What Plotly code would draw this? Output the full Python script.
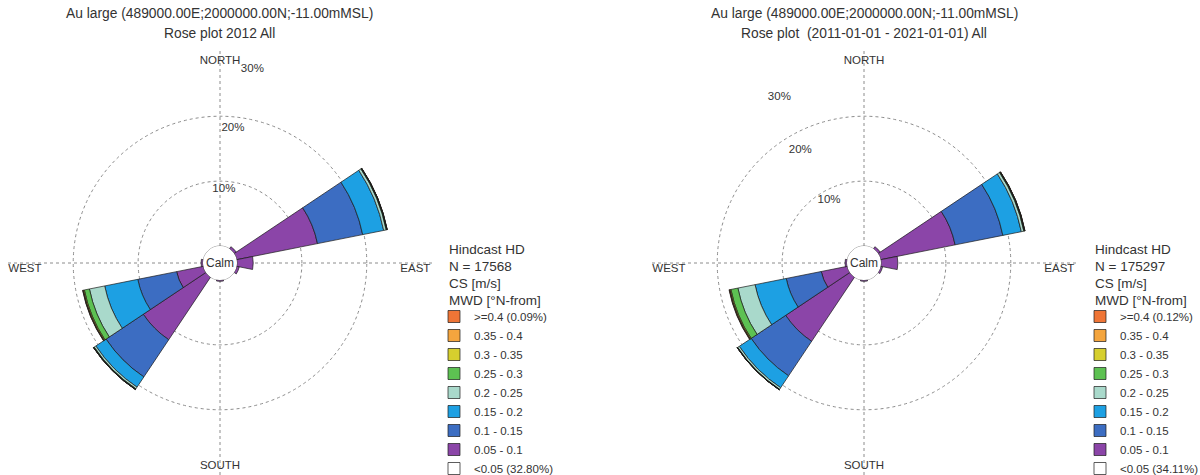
import plotly.graph_objects as go

# ---------------- data ----------------
directions = [45, 67.5, 90, 112.5, 180, 225, 247.5, 270]   # MWD, deg N-from

bin_labels = ["0.05 - 0.1", "0.1 - 0.15", "0.15 - 0.2", "0.2 - 0.25",
              "0.25 - 0.3", "0.3 - 0.35", "0.35 - 0.4"]
bin_colors = ["#8B45A8", "#3C6DC2", "#1DA0E3", "#A9D9CB",
              "#5DC152", "#D6CF2E", "#F4A53E", "#EF7536"]

# left rose : 2012 (percent of records, per direction sector)
left_bins = [
    [0.4, 12.7, 2.5, 0.4, 0.2, 11.6, 4.2, 0.3],      # 0.05-0.1
    [None, 7.1, None, None, None, 6.9, 6.1, None],   # 0.1-0.15
    [None, 3.3, None, None, None, 1.9, 5.2, None],   # 0.15-0.2
    [None, 0.4, None, None, None, 0.3, 2.4, None],   # 0.2-0.25
    [None, 0.1, None, None, None, 0.1, 0.8, None],   # 0.25-0.3
    [None, 0.03, None, None, None, 0.02, 0.15, None],  # 0.3-0.35
    [None, 0.02, None, None, None, 0.01, 0.08, None],  # 0.35-0.4
    [None, 0.01, None, None, None, 0.01, 0.04, None],  # >=0.4
]
left_top_label = ">=0.4 (0.09%)"
left_calm_label = "<0.05 (32.80%)"
left_n = "17568"
left_title = ["Au large (489000.00E;2000000.00N;-11.00mMSL)", "Rose plot 2012 All"]

# right rose : 2011-2021
right_bins = [
    [0.4, 11.7, 2.6, 0.3, 0.2, 11.9, 4.1, 0.3],
    [None, 7.5, None, None, None, 6.4, 5.5, None],
    [None, 2.9, None, None, None, 2.2, 4.9, None],
    [None, 0.4, None, None, None, 0.3, 2.7, None],
    [None, 0.1, None, None, None, 0.05, 1.1, None],
    [None, 0.04, None, None, None, 0.02, 0.15, None],
    [None, 0.02, None, None, None, 0.01, 0.08, None],
    [None, 0.02, None, None, None, 0.01, 0.06, None],
]
right_top_label = ">=0.4 (0.12%)"
right_calm_label = "<0.05 (34.11%)"
right_n = "175297"
right_title = ["Au large (489000.00E;2000000.00N;-11.00mMSL)",
               "Rose plot  (2011-01-01 - 2021-01-01) All"]

radial_ticks = [10, 20, 30]
radial_tick_text = ["10%", "20%", "30%"]
compass_theta = [0, 90, 180, 270]
compass_text = ["NORTH", "EAST", "SOUTH", "WEST"]

TXT = "#333333"
FONT = "Liberation Sans, Arial, sans-serif"

W, H = 1200, 475
R = 212
CY = 263


def px(x):
    return x / W


def py(y):
    return 1 - y / H


fig = go.Figure()


def add_rose(polar, legend, bins, top_label, calm_label, lab_theta, lab_scale, lab_shift):
    fig.add_trace(go.Barpolar(
        r=[None], theta=[0], name=calm_label, subplot=polar, legend=legend,
        marker=dict(color="white", line=dict(color="#333", width=0.8)),
    ))
    names = bin_labels + [top_label]
    for vals, name, col in zip(bins, names, bin_colors):
        fig.add_trace(go.Barpolar(
            r=vals, theta=directions, width=22.5, name=name,
            subplot=polar, legend=legend,
            marker=dict(color=col, line=dict(color="#1a1a1a", width=0.7)),
            hovertemplate="%{theta}°: %{r}%<extra>" + name + "</extra>",
        ))
    # calm circle outline
    fig.add_trace(go.Scatterpolar(
        r=[0] * 73, theta=[i * 5 for i in range(73)], mode="lines",
        line=dict(color="#777", width=0.8), subplot=polar,
        showlegend=False, hoverinfo="skip",
    ))
    # compass labels
    fig.add_trace(go.Scatterpolar(
        r=[29.4, 29.8, 29.6, 30], theta=compass_theta, mode="text", text=compass_text,
        textposition=["bottom center", "bottom left", "top center", "bottom right"],
        textfont=dict(size=11.5, color=TXT, family=FONT),
        subplot=polar, showlegend=False, hoverinfo="skip",
    ))
    # radial labels
    fig.add_trace(go.Scatterpolar(
        r=[t * lab_scale + lab_shift for t in radial_ticks], theta=lab_theta,
        mode="text", text=radial_tick_text, textposition="middle center",
        textfont=dict(size=11.5, color=TXT, family=FONT),
        subplot=polar, showlegend=False, hoverinfo="skip",
    ))


add_rose("polar", "legend", left_bins, left_top_label, left_calm_label,
         [3, 5.5, 9.5], 0.94, -0.6)
add_rose("polar2", "legend2", right_bins, right_top_label, right_calm_label,
         [-29, -29.5, -27], 0.88, -0.3)


def polar_layout(cx):
    return dict(
        domain=dict(x=[px(cx - R), px(cx + R)], y=[max(0, py(CY + R)), py(CY - R)]),
        hole=17 / R,
        bgcolor="white",
        barmode="stack",
        radialaxis=dict(range=[0, 30.05], tickvals=radial_ticks, showticklabels=False,
                        ticks="", showline=False, showgrid=True,
                        gridcolor="#8c8c8c", griddash="dot", gridwidth=1),
        angularaxis=dict(direction="clockwise", rotation=90, tickvals=compass_theta,
                         showticklabels=False, ticks="", showline=False,
                         showgrid=True, gridcolor="#8c8c8c", griddash="dot",
                         gridwidth=1),
    )


def legend_layout(x):
    return dict(
        x=px(x), xanchor="left", y=py(483), yanchor="bottom",
        traceorder="reversed", bgcolor="rgba(0,0,0,0)",
        font=dict(size=11.5, color=TXT, family=FONT),
        itemclick=False, itemdoubleclick=False,
    )


annotations = []


def add_text_block(lines, x, ys, size, anchor):
    for line, y in zip(lines, ys):
        annotations.append(dict(
            text=line, x=px(x), y=py(y), xref="paper", yref="paper",
            xanchor=anchor, yanchor="middle", showarrow=False,
            font=dict(size=size, color=TXT, family=FONT)))


add_text_block(left_title, 220, [13, 33], 13.8, "center")
add_text_block(right_title, 864, [13, 33], 13.8, "center")
add_text_block(["Hindcast HD", "N = " + left_n, "CS [m/s]", "MWD [°N-from]"],
               447, [249, 266, 283, 300], 13.5, "left")
add_text_block(["Hindcast HD", "N = " + right_n, "CS [m/s]", "MWD [°N-from]"],
               1093, [249, 266, 283, 300], 13.5, "left")
add_text_block(["Calm"], 220, [CY], 12, "center")
add_text_block(["Calm"], 864, [CY], 12, "center")

fig.update_layout(
    width=W, height=H,
    margin=dict(l=0, r=0, t=0, b=0, autoexpand=False),
    paper_bgcolor="white",
    font=dict(family=FONT, color=TXT),
    polar=polar_layout(220),
    polar2=polar_layout(864),
    legend=legend_layout(434),
    legend2=legend_layout(1080),
    annotations=annotations,
)

fig.write_html("out.html", config={"displayModeBar": False},
               post_script="document.body.style.margin='0';"
                           "document.body.style.overflow='hidden';")
